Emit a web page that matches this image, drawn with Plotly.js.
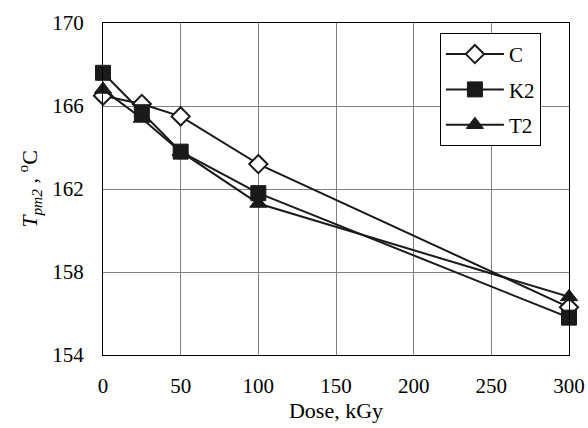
<!DOCTYPE html>
<html>
<head>
<meta charset="utf-8">
<script src="https://cdn.plot.ly/plotly-3.0.1.min.js"></script>
<style>html,body{margin:0;padding:0;background:#fff;}#chart{width:588px;height:428px;}</style>
</head>
<body>
<div id="chart"></div>
<script>
const dose = [0, 25, 50, 100, 300];
const seriesC = [166.5, 166.1, 165.5, 163.2, 156.3];
const seriesK2 = [167.6, 165.7, 163.8, 161.8, 155.8];
const seriesT2 = [166.8, 165.4, 163.8, 161.3, 156.8];
const xTicks = [0, 50, 100, 150, 200, 250, 300];
const yTicks = [154, 158, 162, 166, 170];

const fam = 'Liberation Serif';
const f = (s) => ({family: fam, size: s, color: '#000'});
const line = {color: '#1a1a1a', width: 2};

const traces = [
  {x: dose, y: seriesC, name: 'C', legendgroup: 'a', mode: 'lines+markers', cliponaxis: false,
   line: line, marker: {symbol: 'diamond', size: 14, color: '#fff', line: {color: '#1a1a1a', width: 2}}},
  {x: dose, y: seriesK2, name: 'K2', legendgroup: 'b', mode: 'lines+markers', cliponaxis: false,
   line: line, marker: {symbol: 'square', size: 15, color: '#1a1a1a', line: {color: '#1a1a1a', width: 1}}},
  {x: dose, y: seriesT2, name: 'T2', legendgroup: 'c', mode: 'lines+markers', cliponaxis: false,
   line: line, marker: {symbol: 'triangle-up', size: 15, color: '#1a1a1a', line: {color: '#1a1a1a', width: 1}}}
];

const layout = {
  width: 588, height: 428,
  margin: {l: 103, r: 19, t: 23, b: 73},
  paper_bgcolor: '#fff', plot_bgcolor: '#fff',
  font: f(20),
  showlegend: true,
  legend: {x: 0.723, y: 0.97, xanchor: 'left', yanchor: 'top',
    bgcolor: '#fff', bordercolor: '#000', borderwidth: 1,
    font: f(21), tracegroupgap: 5, itemwidth: 58},
  xaxis: {range: [0, 300], tickvals: xTicks, ticktext: xTicks.map(String),
    showgrid: true, gridcolor: '#808080', gridwidth: 1, zeroline: false,
    showline: true, linecolor: '#000', linewidth: 1, mirror: true, ticks: '',
    tickfont: f(21), ticklabelstandoff: 12,
    title: {text: 'Dose, kGy', font: f(22), standoff: 0}},
  yaxis: {range: [154, 170], tickvals: yTicks, ticktext: yTicks.map(String),
    showgrid: true, gridcolor: '#808080', gridwidth: 1, zeroline: false,
    showline: true, linecolor: '#000', linewidth: 1, mirror: true, ticks: '',
    tickfont: f(21), ticklabelstandoff: 14,
    title: {text: '<i>T</i><sub><i>pm2</i></sub> , <sup>o</sup>C', font: f(22), standoff: 8}}
};

Plotly.newPlot('chart', traces, layout, {displayModeBar: false, staticPlot: true});
</script>
</body>
</html>
